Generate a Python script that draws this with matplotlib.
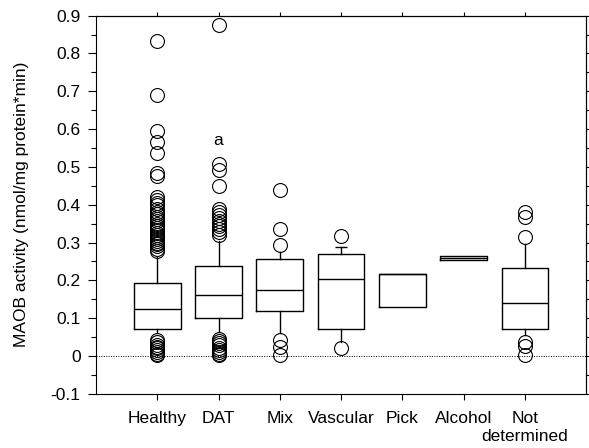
import matplotlib
matplotlib.use("Agg")
import matplotlib.pyplot as plt
from matplotlib.ticker import MultipleLocator

plt.rcParams['font.family'] = ['Liberation Sans', 'DejaVu Sans']

categories = ['Healthy', 'DAT', 'Mix', 'Vascular', 'Pick', 'Alcohol', 'Not\ndetermined']
medians = [0.124, 0.160, 0.175, 0.203, 0.217, 0.260, 0.139]
q1 = [0.071, 0.100, 0.118, 0.071, 0.130, 0.254, 0.072]
q3 = [0.192, 0.239, 0.256, 0.270, 0.217, 0.265, 0.234]
whislo = [0.060, 0.064, 0.060, 0.038, 0.130, 0.254, 0.056]
whishi = [0.262, 0.303, 0.276, 0.289, 0.217, 0.265, 0.296]

healthy_out = [0.834, 0.689, 0.595, 0.567, 0.538, 0.485, 0.476,
               0.420, 0.412, 0.405, 0.398, 0.390, 0.382, 0.375, 0.368, 0.363,
               0.356, 0.350, 0.344, 0.338, 0.332, 0.326, 0.320, 0.315, 0.310,
               0.305, 0.300, 0.295, 0.290, 0.284, 0.278,
               0.042, 0.036, 0.030, 0.025, 0.020, 0.015, 0.010, 0.006, 0.002]
dat_out = [0.876, 0.508, 0.492, 0.450, 0.389, 0.380, 0.372, 0.365,
           0.357, 0.350, 0.343, 0.335, 0.328, 0.321,
           0.046, 0.040, 0.034, 0.028, 0.022, 0.016, 0.011, 0.006, 0.002]
mix_out = [0.439, 0.335, 0.294, 0.042, 0.025, 0.003]
vascular_out = [0.317, 0.020]
pick_out = []
alcohol_out = []
notdet_out = [0.382, 0.368, 0.314, 0.038, 0.026, 0.003]
outliers = [healthy_out, dat_out, mix_out, vascular_out, pick_out, alcohol_out, notdet_out]

yticks = [-0.1, 0, 0.1, 0.2, 0.3, 0.4, 0.5, 0.6, 0.7, 0.8, 0.9]
ytick_labels = ['-0.1', '0', '0.1', '0.2', '0.3', '0.4', '0.5', '0.6', '0.7', '0.8', '0.9']

stats = []
for i, name in enumerate(categories):
    stats.append({'label': name, 'med': medians[i], 'q1': q1[i], 'q3': q3[i],
                  'whislo': whislo[i], 'whishi': whishi[i], 'fliers': outliers[i]})

fig = plt.figure(figsize=(5.89, 4.48), dpi=100)
ax = fig.add_axes([0.163, 0.121, 0.832, 0.844])

pos = list(range(1, len(categories) + 1))
lw = 1.0
ax.bxp(stats, positions=pos, widths=0.76, showcaps=False,
       boxprops=dict(color='black', linewidth=lw),
       medianprops=dict(color='black', linewidth=lw),
       whiskerprops=dict(color='black', linewidth=lw),
       flierprops=dict(marker='o', markersize=10, markerfacecolor='none',
                       markeredgecolor='black', markeredgewidth=0.8))
# only the upper Vascular whisker shows its cap
ax.hlines(whishi[3], pos[3] - 0.1, pos[3] + 0.1, color='black', linewidth=lw)

ax.axhline(0, color='black', linestyle=(0, (1, 1.5)), linewidth=0.7, zorder=0)

ax.text(2, 0.57, 'a', ha='center', va='center', fontsize=12.5)

ax.set_xlim(0, 8)
ax.set_ylim(-0.1, 0.9)
ax.set_xticks(pos)
ax.set_xticklabels(categories, fontsize=12.5)
ax.set_yticks(yticks)
ax.set_yticklabels(ytick_labels, fontsize=12.5)
ax.yaxis.set_minor_locator(MultipleLocator(0.05))
ax.set_ylabel('MAOB activity (nmol/mg protein*min)', fontsize=12.5, labelpad=16)

ax.tick_params(axis='y', which='major', direction='out', length=6, width=0.8, pad=5)
ax.tick_params(axis='y', which='minor', direction='out', length=3.5, width=0.8)
ax.tick_params(axis='x', which='major', direction='out', length=4.5, width=0.8, pad=8)

# top and right spines carry their own ticks
top = ax.secondary_xaxis('top')
top.set_xticks(pos)
top.tick_params(direction='out', length=3, width=0.8, labeltop=False)
right = ax.secondary_yaxis('right')
right.yaxis.set_major_locator(MultipleLocator(0.05))
right.tick_params(direction='out', length=2.5, width=0.8, labelright=False)

for s in ax.spines.values():
    s.set_linewidth(0.8)

fig.savefig('out.png', dpi=100)
